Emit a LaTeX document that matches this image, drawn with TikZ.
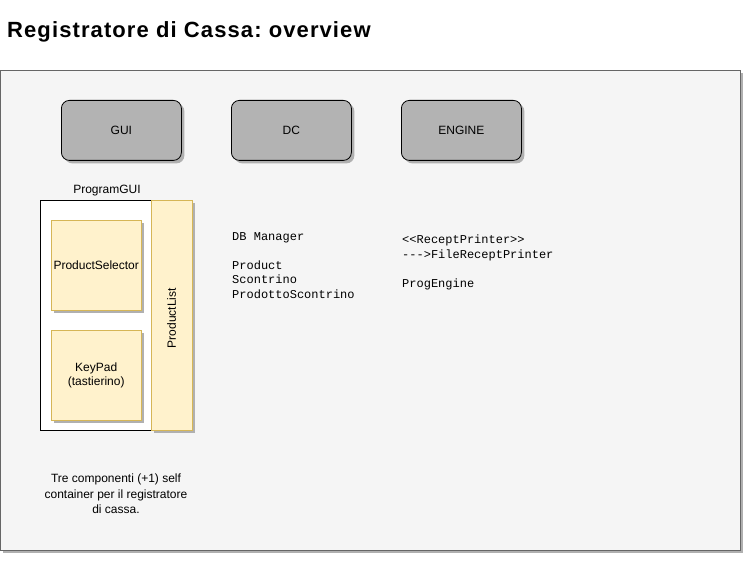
\documentclass[tikz,border=0pt]{standalone}
\usepackage{fontspec}
\setmainfont{Liberation Sans}
\newfontfamily\monofont{Liberation Mono}
\newfontfamily\titlefont[LetterSpace=5]{Liberation Sans}
\frenchspacing
\usetikzlibrary{shadows}
\definecolor{bgfill}{HTML}{F5F5F5}
\definecolor{bgline}{HTML}{666666}
\definecolor{boxgray}{HTML}{B3B3B3}
\definecolor{yfill}{HTML}{FFF2CC}
\definecolor{yline}{HTML}{D6B656}
\definecolor{shadowc}{HTML}{B0B0B0}
\tikzset{
  shd/.style={drop shadow={shadow xshift=3pt,shadow yshift=-3pt,fill=shadowc,opacity=1}},
  module/.style={draw=black,fill=boxgray,rounded corners=8pt,minimum width=120pt,minimum height=60pt,font=\fontsize{12}{14}\selectfont,shd,line width=0.8pt},
  ybox/.style={draw=yline,fill=yfill,shd,font=\fontsize{12}{14}\selectfont,align=center,inner sep=1pt},
  monotext/.style={font=\monofont\fontsize{12}{14.5}\selectfont,align=left,anchor=north west,inner sep=0pt},
}
\begin{document}
\begin{tikzpicture}[x=1pt,y=-1pt]
\useasboundingbox (0,0) rectangle (743,564);
\node[anchor=base west,inner sep=0pt,font=\titlefont\bfseries\fontsize{22}{24}\selectfont] (title) at (7,37.5) {Registratore di Cassa: overview};
\node[draw=bgline,fill=bgfill,shd,minimum width=740pt,minimum height=480pt,anchor=north west,inner sep=0pt] (frame) at (0,70) {};
\node[module,anchor=north west] (gui) at (61,100) {GUI};
\node[module,anchor=north west] (dc) at (231,100) {DC};
\node[module,anchor=north west] (engine) at (401,100) {ENGINE};
\node[draw=black,fill=white,minimum width=111pt,minimum height=230pt,anchor=north west,inner sep=0pt] (pgui) at (40,200) {};
\node[anchor=south,inner sep=0pt,font=\fontsize{12}{14}\selectfont] (pguil) at (107,196) {ProgramGUI};
\node[ybox,minimum width=41pt,minimum height=230pt,anchor=north west] (plist) at (151,200) {};
\node[rotate=90,font=\fontsize{12}{14}\selectfont,inner sep=0pt] (plistl) at ([yshift=-3pt]plist.center) {ProductList};
\node[ybox,minimum width=90pt,minimum height=90pt,anchor=north west] (psel) at (51,220) {ProductSelector};
\node[ybox,minimum width=90pt,minimum height=90pt,anchor=north west] (kpad) at (51,330) {KeyPad\\(tastierino)};
\node[monotext] (dct) at (232,232) {DB Manager\\[14.5pt]Product\\Scontrino\\ProdottoScontrino};
\node[monotext] (engt) at (402,235) {<{}<ReceptPrinter>{}>\\-{}-{}->FileReceptPrinter\\[14.5pt]ProgEngine};
\node[align=center,font=\fontsize{12}{15.5}\selectfont,inner sep=0pt,anchor=north] (note) at (116,474) {Tre componenti (+1) self\\container per il registratore\\di cassa.};
\end{tikzpicture}
\end{document}
